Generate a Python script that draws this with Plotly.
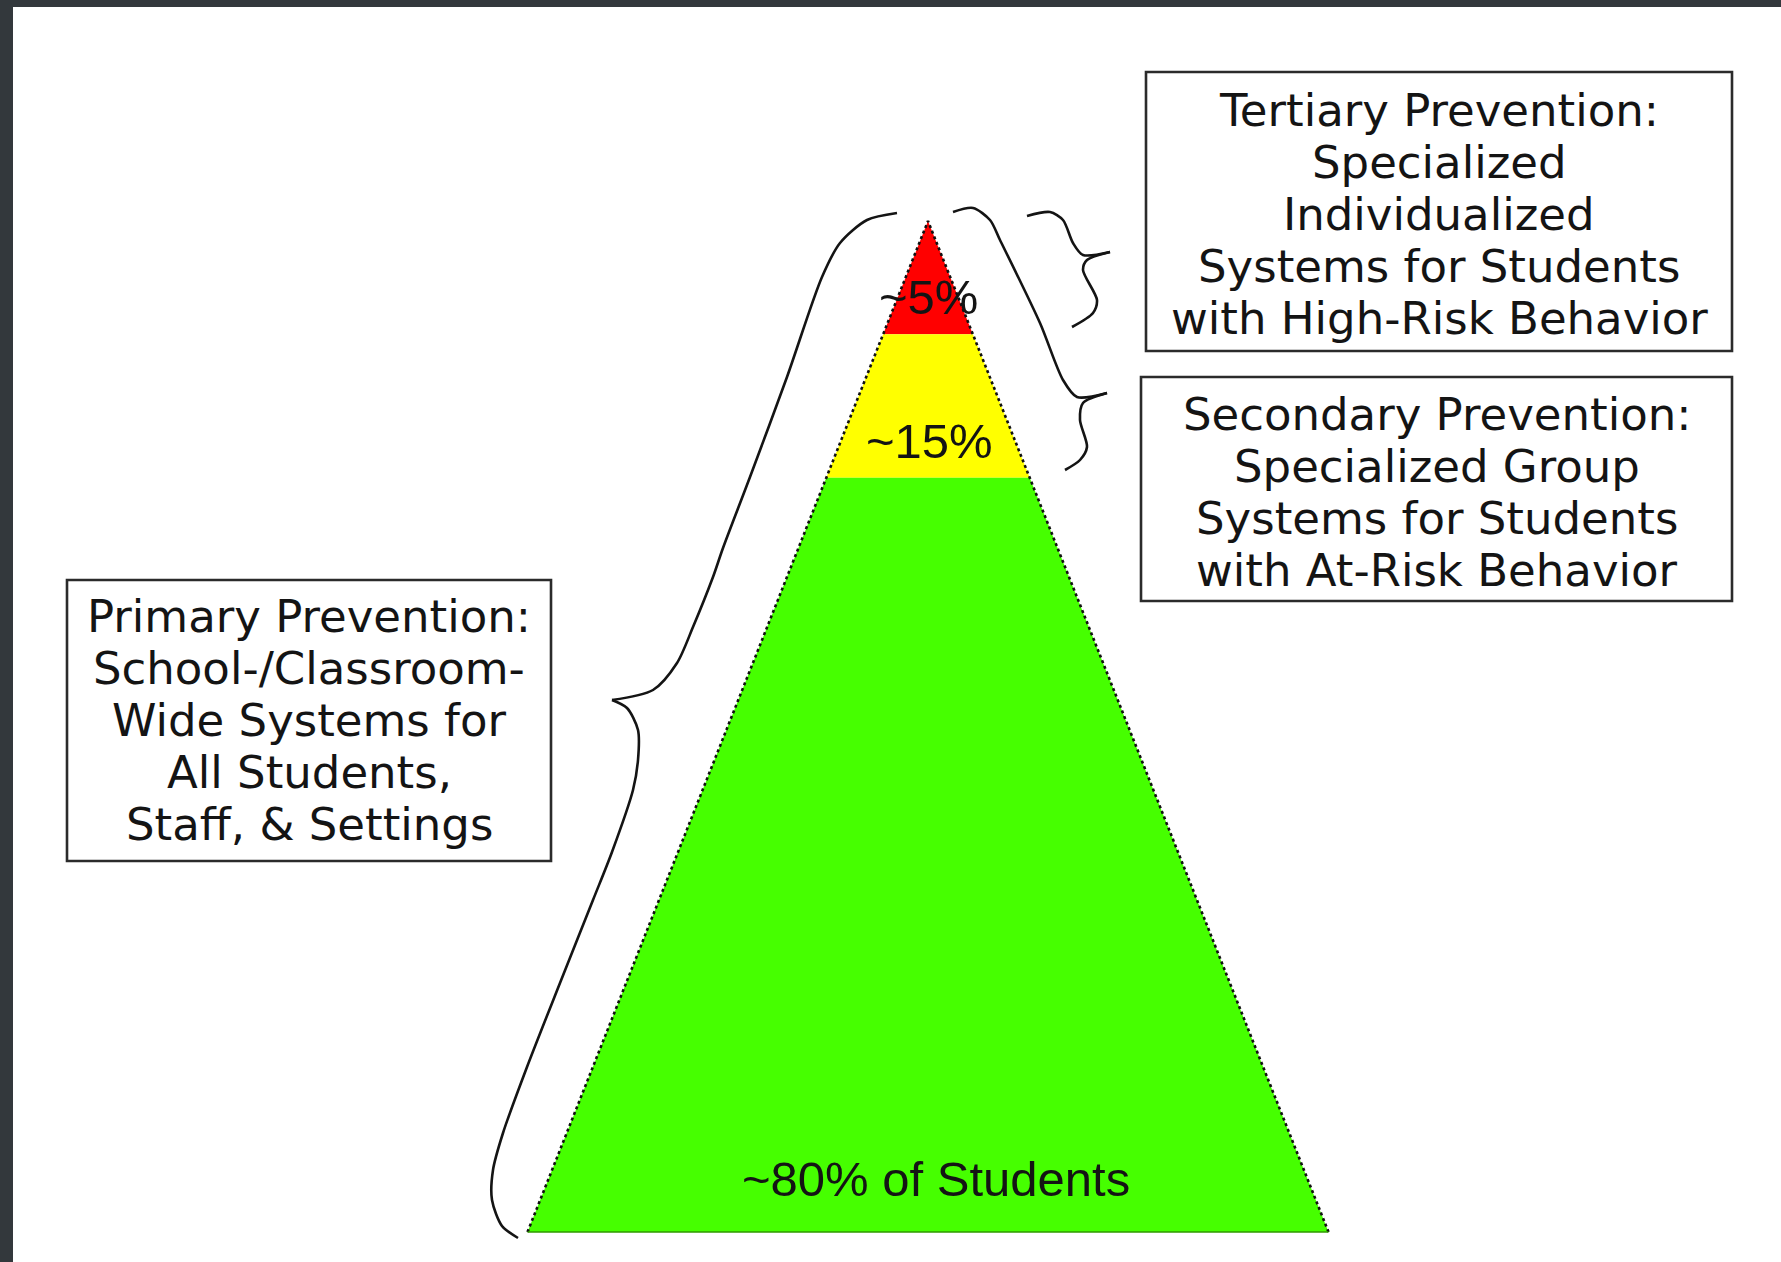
import plotly.graph_objects as go

# ---------------- data ----------------
tier_labels = ["~5%", "~15%", "~80% of Students"]
tier_colors = ["#ff0000", "#ffff00", "#46ff00"]
tier_bounds = [0.0, 0.112, 0.254, 1.0]      # depth of each band edge, fraction of pyramid height
tier_label_depth = [0.075, 0.218, 0.948]    # where each label sits (fraction of height)

tertiary_lines = ["Tertiary Prevention:", "Specialized", "Individualized",
                  "Systems for Students", "with High-Risk Behavior"]
secondary_lines = ["Secondary Prevention:", "Specialized Group",
                   "Systems for Students", "with At-Risk Behavior"]
primary_lines = ["Primary Prevention:", "School-/Classroom-",
                 "Wide Systems for", "All Students,", "Staff, & Settings"]

# ---------------- geometry / style ----------------
W, H = 1781, 1262
FRAME = "#33383c"
INK = "#141414"
APEX = (928, 221)
BASE_Y = 1232
HALF_BASE = 400.5
PH = BASE_Y - APEX[1]

def half_width(frac):
    return HALF_BASE * frac

fig = go.Figure()

# pyramid bands
for i in range(3):
    f0, f1 = tier_bounds[i], tier_bounds[i + 1]
    y0, y1 = APEX[1] + f0 * PH, APEX[1] + f1 * PH
    w0, w1 = half_width(f0), half_width(f1)
    xs = [APEX[0] - w0, APEX[0] + w0, APEX[0] + w1, APEX[0] - w1, APEX[0] - w0]
    ys = [y0, y0, y1, y1, y0]
    fig.add_trace(go.Scatter(x=xs, y=ys, mode="lines", fill="toself",
                             fillcolor=tier_colors[i], line=dict(width=0),
                             hoverinfo="skip", showlegend=False))

# pyramid sides (dotted) and base
fig.add_trace(go.Scatter(x=[APEX[0] - HALF_BASE, APEX[0], APEX[0] + HALF_BASE],
                         y=[BASE_Y, APEX[1], BASE_Y], mode="lines",
                         line=dict(color="#111111", width=2.6, dash="3px,3px"),
                         hoverinfo="skip", showlegend=False))
fig.add_trace(go.Scatter(x=[APEX[0] - HALF_BASE, APEX[0] + HALF_BASE],
                         y=[BASE_Y, BASE_Y], mode="lines",
                         line=dict(color="#2f9a00", width=1.5),
                         hoverinfo="skip", showlegend=False))

# braces (each arm drawn separately so the tip stays sharp)
braces = [
    # large primary brace
    ([897, 867, 840, 822, 787, 750, 723, 713, 693, 677, 653, 612],
     [213, 220, 243, 277, 377, 477, 548, 577, 627, 663, 690, 700]),
    ([612, 627, 638, 638, 633, 612, 593, 560, 527, 503, 493, 492, 502, 518],
     [700, 708, 730, 760, 790, 852, 900, 983, 1067, 1133, 1170, 1200, 1226, 1238]),
    # tertiary brace
    ([1027, 1050, 1063, 1073, 1083, 1110], [216, 212, 220, 243, 255, 252]),
    ([1110, 1087, 1083, 1097, 1093, 1072], [252, 260, 270, 300, 313, 327]),
    # secondary brace
    ([953, 973, 990, 1000, 1040, 1063, 1077, 1107], [212, 208, 220, 240, 323, 380, 397, 393]),
    ([1107, 1083, 1080, 1087, 1080, 1065], [393, 403, 420, 447, 460, 470]),
]
for bx, by in braces:
    fig.add_trace(go.Scatter(x=bx, y=by, mode="lines",
                             line=dict(color=INK, width=2.6, shape="spline", smoothing=0.8),
                             hoverinfo="skip", showlegend=False))

# pyramid labels
label_x = [928, 929, 936]
for lab, d, lx in zip(tier_labels, tier_label_depth, label_x):
    fig.add_annotation(x=lx, y=APEX[1] + d * PH, text=lab, showarrow=False,
                       xanchor="center", yanchor="middle",
                       font=dict(family="Liberation Sans, Arial", size=49, color=INK))

# text boxes
boxes = [
    (1146, 1732, 72, 351, tertiary_lines, 110),
    (1141, 1732, 377, 601, secondary_lines, 414),
    (67, 551, 580, 861, primary_lines, 616),
]
for x0, x1, y0, y1, lines, first_y in boxes:
    fig.add_shape(type="rect", xref="x", yref="y", x0=x0, x1=x1, y0=y0, y1=y1,
                  line=dict(color="#2b2b2b", width=2.6), fillcolor="rgba(0,0,0,0)")
    cx = (x0 + x1) / 2
    for k, line in enumerate(lines):
        fig.add_annotation(x=cx, y=first_y + 52 * k, text=line, showarrow=False,
                           xanchor="center", yanchor="middle",
                           font=dict(family="DejaVu Sans", size=45, color=INK))

fig.update_layout(
    width=W, height=H,
    margin=dict(l=13, r=0, t=7, b=0),
    paper_bgcolor=FRAME, plot_bgcolor="white",
    xaxis=dict(range=[13, W], visible=False, fixedrange=True),
    yaxis=dict(range=[H, 7], visible=False, fixedrange=True),
    showlegend=False,
)

fig.write_html("out.html", config={"displayModeBar": False})

# remove the browser's default page margin so the figure sits at (0, 0)
with open("out.html", "r", encoding="utf-8") as fh:
    html = fh.read()
html = html.replace("<head>", "<head><style>html,body{margin:0;padding:0;overflow:hidden;}</style>", 1)
with open("out.html", "w", encoding="utf-8") as fh:
    fh.write(html)
